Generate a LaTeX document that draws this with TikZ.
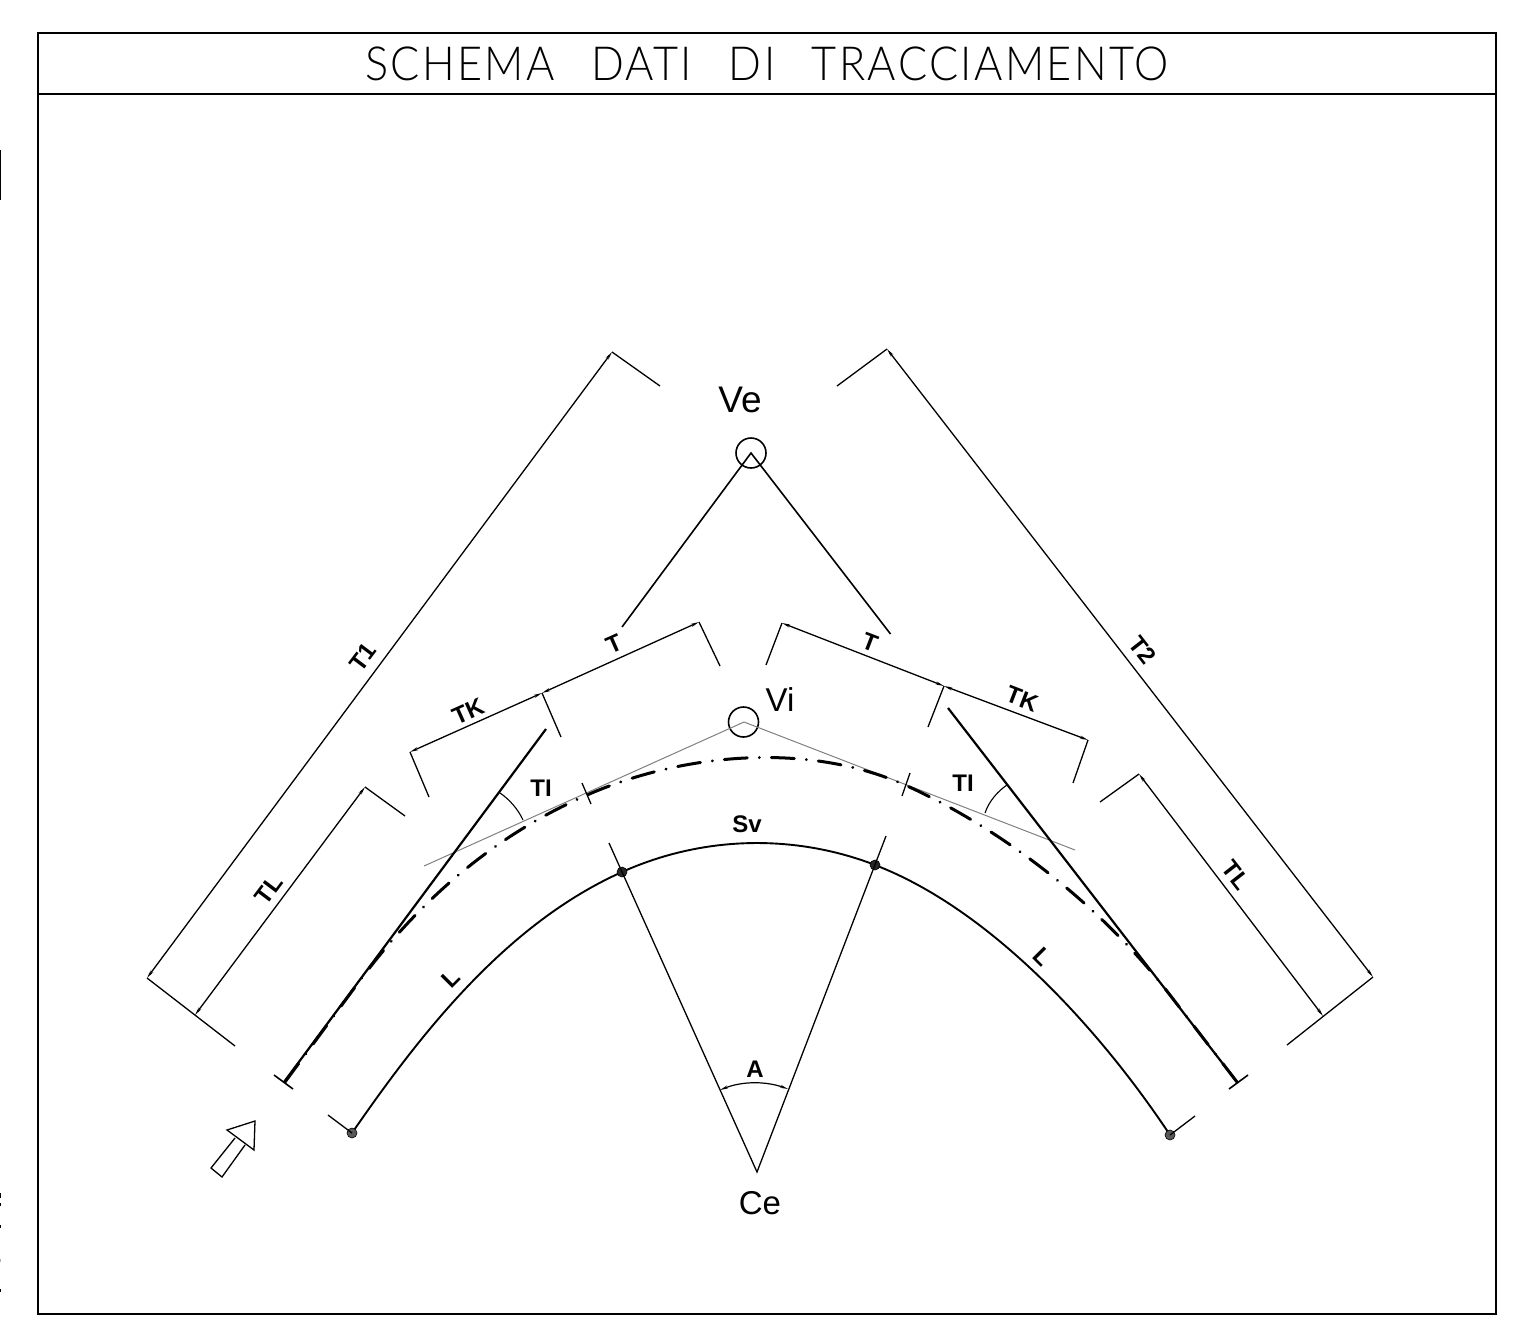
\documentclass[tikz,border=0pt]{standalone}
\usepackage{fontspec}
\setmainfont{Liberation Sans}
\newfontfamily\thinfont[LetterSpace=5,WordSpace=2.6,FakeStretch=0.92]{Lato Light}
\usetikzlibrary{arrows.meta}
\tikzset{
  framel/.style={line width=2.4pt,black},
  dimext/.style={line width=1.3pt,black},
  dimline/.style={line width=1.3pt,black,{Stealth[length=8pt,width=3pt]}-{Stealth[length=8pt,width=3pt]}},
  heavy/.style={line width=2.2pt,black},
  graytan/.style={line width=1pt,black!50},
  axisl/.style={line width=3pt,black,line cap=round,dash pattern=on 23pt off 12pt on 0.1pt off 12pt},
  arcl/.style={line width=1.9pt,black},
  small/.style={font=\fontsize{24pt}{24pt}\selectfont\bfseries,inner sep=0pt},
  big/.style={font=\fontsize{33pt}{33pt}\selectfont,inner sep=0pt},
  dotd/.style={circle,fill=black!85,draw=black,line width=.6pt,minimum size=10pt,inner sep=0pt},
  dotg/.style={circle,fill=black!65,draw=black,line width=.6pt,minimum size=10pt,inner sep=0pt},
  ring/.style={circle,draw=black,line width=1.6pt,minimum size=30pt,inner sep=0pt},
}
\begin{document}
\begin{tikzpicture}[x=1pt,y=-1pt]
\useasboundingbox (0,0) rectangle (1533,1336);
% frame
\draw[framel] (38,33) rectangle (1496,1314);
\draw[framel] (38,94) -- (1496,94);
\node[inner sep=0pt,font=\fontsize{47pt}{47pt}\selectfont\thinfont] (title) at (767,64) {SCHEMA DATI DI TRACCIAMENTO};
% edge marks
\draw[line width=1.6pt] (0.5,150) -- (0.5,200);
\foreach \yy/\ll in {1193/5,1203/3,1225/3,1289/3} \draw[line width=1.4pt] (0.5,\yy) -- (0.5,\yy+\ll);
\draw[line width=1.2pt,black!30] (0.5,1259) -- (0.5,1262);
% key points
\coordinate (Ce) at (757,1172);
\node[ring] (Ve) at (751,453) {};
\node[ring] (Vi) at (743.5,722) {};
\coordinate (VeC) at (751,453);
\coordinate (ViC) at (744,722);
% curve
\draw[arcl] (622,872) .. controls (508,923) and (423,1030) .. (352,1133);
\draw[arcl] plot[domain=-24.2:21,samples=40] ({757+329*sin(\x)},{1172-329*cos(\x)});
\draw[arcl] (875,865) .. controls (992,910) and (1101,1031) .. (1170,1135);
\node[dotd] (P1) at (622,872) {};
\node[dotd] (P2) at (875,865) {};
\node[dotg] (E1) at (352,1133) {};
\node[dotg] (E2) at (1170,1135) {};
% outer left dims
\coordinate (a1) at (660,386); \coordinate (a2) at (612,352);
\coordinate (a3) at (147,978); \coordinate (a4) at (235,1046);
\coordinate (a5) at (195,1015); \coordinate (a6) at (365,787); \coordinate (a7) at (405,816);
\draw[dimext] (a1) -- (a2); \draw[dimext] (a3) -- (a4); \draw[dimext] (a6) -- (a7);
\draw[dimline] (a2) -- (a3);
\draw[dimline] (a5) -- (a6);
% outer right dims
\coordinate (b1) at (837,386); \coordinate (b2) at (887,349);
\coordinate (b3) at (1373,977); \coordinate (b4) at (1287,1045);
\coordinate (b5) at (1323,1016); \coordinate (b6) at (1139,774); \coordinate (b7) at (1100,802);
\draw[dimext] (b1) -- (b2); \draw[dimext] (b3) -- (b4); \draw[dimext] (b6) -- (b7);
\draw[dimline] (b2) -- (b3);
\draw[dimline] (b5) -- (b6);
% inner left dims
\coordinate (c1) at (720,666); \coordinate (c2) at (699,622);
\coordinate (c3) at (542,693); \coordinate (c4) at (561,737);
\coordinate (c5) at (410,752); \coordinate (c6) at (429,797);
\draw[dimext] (c1) -- (c2); \draw[dimext] (c3) -- (c4); \draw[dimext] (c5) -- (c6);
\draw[dimline] (c2) -- (c3);
\draw[dimline] (c3) -- (c5);
% inner right dims
\coordinate (d1) at (766,665); \coordinate (d2) at (782,623);
\coordinate (d3) at (944,686); \coordinate (d4) at (928,727);
\coordinate (d5) at (1088,740); \coordinate (d6) at (1073,783);
\draw[dimext] (d1) -- (d2); \draw[dimext] (d3) -- (d4); \draw[dimext] (d5) -- (d6);
\draw[dimline] (d2) -- (d3);
\draw[dimline] (d3) -- (d5);
% Ve legs
\coordinate (e1) at (622,627); \coordinate (e2) at (890.5,634);
\draw[line width=1.6pt] (e1) -- (VeC) -- (e2);
% gray tangents
\coordinate (g1) at (424,866); \coordinate (g2) at (1075,850);
\draw[graytan] (g1) -- (ViC) -- (g2);
% heavy tangents
\coordinate (h1) at (546,729); \coordinate (h2) at (284,1082);
\coordinate (h3) at (948,708); \coordinate (h4) at (1237,1082);
\draw[heavy] (h1) -- (h2);
\draw[heavy] (h3) -- (h4);
\coordinate (t1) at (274,1075); \coordinate (t2) at (293,1089);
\coordinate (t3) at (1229,1089); \coordinate (t4) at (1248,1075);
\draw[line width=1.6pt] (t1) -- (t2);
\draw[line width=1.6pt] (t3) -- (t4);
% dash-dot axis
\draw[axisl] (285,1082) -- (361,979) .. controls (421,899) and (495,835) .. (587,795)
  .. controls (684,752.6) and (808,742) .. (905,785)
  .. controls (1005,830) and (1103,908) .. (1170,995) -- (1237,1082);
% axis ticks
\coordinate (k1) at (582,783); \coordinate (k2) at (591,804);
\coordinate (k3) at (910,773); \coordinate (k4) at (902,796);
\draw[line width=1.3pt] (k1) -- (k2);
\draw[line width=1.3pt] (k3) -- (k4);
% TI arcs
\coordinate (m1) at (500,793); \coordinate (m2) at (523,820);
\coordinate (m3) at (1007,785); \coordinate (m4) at (985,813);
\draw[line width=1.1pt] (m1) .. controls (509,799) and (518,809) .. (m2);
\draw[line width=1.1pt] (m3) .. controls (998,791) and (989,801) .. (m4);
% radials
\coordinate (r1) at (609,843); \coordinate (r2) at (886,836);
\draw[line width=1.3pt] (r1) -- (Ce) -- (r2);
% end ticks
\coordinate (n1) at (328,1115); \coordinate (n2) at (1195,1116);
\draw[dimext] (E1.center) -- (n1);
\draw[dimext] (E2.center) -- (n2);
% A arc
\coordinate (q1) at (720,1090); \coordinate (q2) at (788,1089);
\draw[line width=1.2pt,{Stealth[length=8pt,width=3pt]}-{Stealth[length=8pt,width=3pt]}] (q1) .. controls (742,1081) and (766,1081) .. (q2);
% flow arrow
\draw[line width=1.3pt,fill=white] (235,1138) -- (211,1168) -- (222,1177) -- (245,1145);
\draw[line width=1.3pt,fill=white] (227,1130) -- (255,1121) -- (254,1150) -- cycle;
% labels
\node[inner sep=0pt,font=\fontsize{37pt}{37pt}\selectfont] (lVe) at (740,400) {Ve};
\node[big] (lVi) at (780,700) {Vi};
\node[big] (lCe) at (760,1203) {Ce};
\node[small,rotate=53] (lT1) at (363,657) {T1};
\node[small,rotate=53] (lTLa) at (269,890) {TL};
\node[small,rotate=24] (lTa) at (614,644) {T};
\node[small,rotate=24] (lTKa) at (468,711) {TK};
\node[small,rotate=-21] (lTb) at (870,642) {T};
\node[small,rotate=-21] (lTKb) at (1022,699) {TK};
\node[small,rotate=-52] (lT2) at (1143,650) {T2};
\node[small,rotate=-52] (lTLb) at (1236,875) {TL};
\node[small] (lTIa) at (541,788) {TI};
\node[small] (lTIb) at (963,783) {TI};
\node[small] (lSv) at (747,824) {Sv};
\node[small,rotate=45] (lLa) at (451,978) {L};
\node[small,rotate=-45] (lLb) at (1043,957) {L};
\node[small] (lA) at (755,1069) {A};
\end{tikzpicture}
\end{document}
